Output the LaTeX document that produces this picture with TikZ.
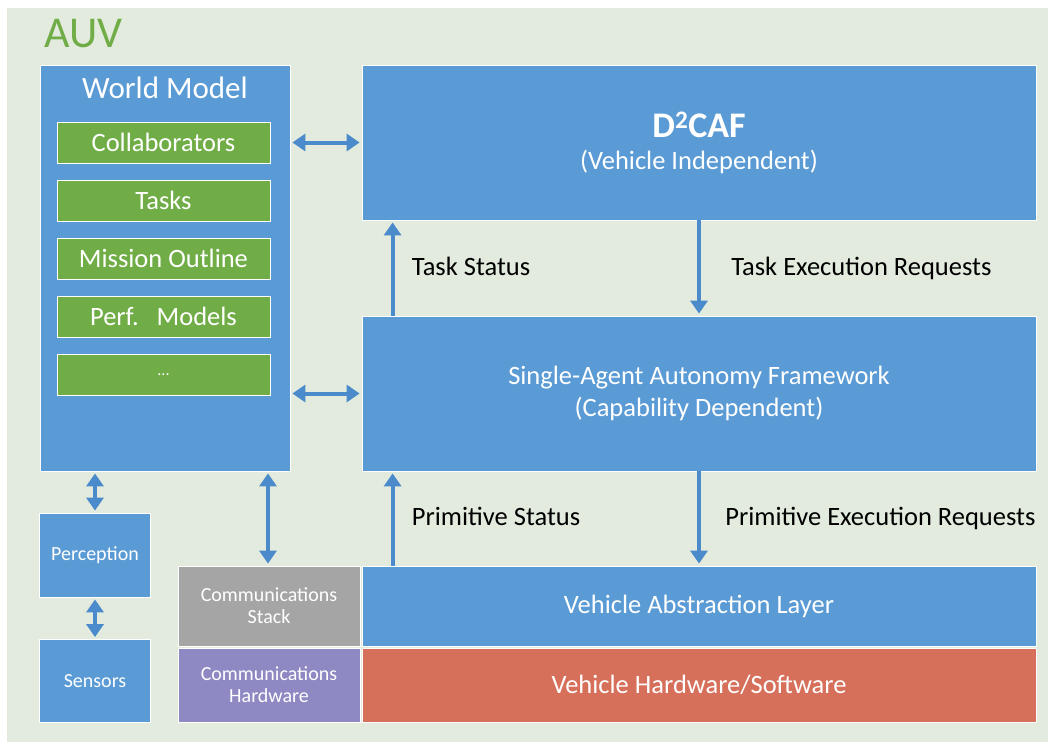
\documentclass[tikz,border=0pt]{standalone}
\usepackage{fontspec}
\setmainfont{Carlito}
\usetikzlibrary{positioning,arrows.meta}
\definecolor{boxblue}{HTML}{5B9BD5}
\definecolor{flowblue}{HTML}{4C8BCB}
\definecolor{itemgreen}{HTML}{70AD47}
\definecolor{stackgray}{HTML}{A5A5A5}
\definecolor{hwpurple}{HTML}{8E88C3}
\definecolor{hwred}{HTML}{D6705A}
\definecolor{auvback}{HTML}{E2EBDD}

\begin{document}
\begin{tikzpicture}[x=1pt, y=-1pt, node distance=58pt, on grid,
    box/.style={fill=boxblue, draw=white, line width=0.8pt, text=white, align=center, inner sep=0pt},
    item/.style={box, fill=itemgreen, minimum width=213pt, minimum height=41pt, font=\fontsize{26.5}{29}\selectfont},
    layer/.style={box, minimum width=674pt, font=\fontsize{26.5}{32}\selectfont},
    small/.style={box, font=\fontsize{20}{22}\selectfont},
    flow/.style={draw=flowblue, line width=4pt, -{Triangle[width=17pt,length=13pt]}, shorten >=2pt},
    both/.style={flow, {Triangle[width=17pt,length=13pt]}-{Triangle[width=17pt,length=13pt]}, shorten <=2pt},
    note/.style={text=black, font=\fontsize{26.5}{29}\selectfont}]
% page and vehicle area
\fill[white] (0,0) rectangle (1056,744);
\fill[auvback] (7,8) rectangle (1048,742);
\node[text=itemgreen, font=\fontsize{44}{47}\selectfont, anchor=west, inner sep=0pt] (auv) at (44,34) {AUV};

% world model and its contents
\node[box, minimum width=250pt, minimum height=406pt] (wm) at (165,268) {};
\node[text=white, font=\fontsize{31}{34}\selectfont] (wmtitle) at (165,88) {World Model};
\node[item] (collab) at (163.5,142.5) {Collaborators};
\node[item, below=of collab] (tasks) {Tasks};
\node[item, below=of tasks] (mission) {Mission Outline};
\node[item, below=of mission] (perf) {Perf.\ \ \ Models};
\node[item, below=of perf, font=\fontsize{16}{18}\selectfont] (more) {...};

% autonomy stack
\node[layer, minimum height=155pt] (d2caf) at (699,142.5)
    {{\fontsize{36}{36}\selectfont\bfseries D\textsuperscript{2}CAF}\\(Vehicle Independent)};
\node[layer, minimum height=155pt] (saaf) at (699,393.5)
    {Single-Agent Autonomy Framework\\(Capability Dependent)};
\node[layer, minimum height=80pt] (val) at (699,606) {Vehicle Abstraction Layer};
\node[layer, minimum height=74pt, fill=hwred] (vhw) at (699,685) {Vehicle Hardware/Software};

% communications and sensing
\node[small, minimum width=182pt, minimum height=80pt, fill=stackgray] (cstack) at (269,606) {Communications\\Stack};
\node[small, minimum width=182pt, minimum height=74pt, fill=hwpurple] (chw) at (269,685) {Communications\\Hardware};
\node[small, minimum width=111pt, minimum height=84pt] (perc) at (95,555) {Perception};
\node[small, minimum width=111pt, minimum height=83pt] (sens) at (95,681) {Sensors};

% data flow
\draw[both] (wm.east |- d2caf) -- (d2caf.west);
\draw[both] (wm.east |- saaf) -- (saaf.west);
\draw[flow] ([xshift=31pt]saaf.north west) -- node[note, right=14pt, yshift=2pt] {Task Status} ([xshift=31pt]d2caf.south west);
\draw[flow] (d2caf.south) -- node[note, right=27pt] {Task Execution Requests} (saaf.north);
\draw[flow] ([xshift=31pt]val.north west) -- node[note, right=14pt, yshift=2pt] {Primitive Status} ([xshift=31pt]saaf.south west);
\draw[flow] (saaf.south) -- node[note, right=21pt] {Primitive Execution Requests} (val.north);
\draw[both] (perc.north) -- (perc.north |- wm.south);
\draw[both] (sens.north) -- (perc.south);
\draw[both] ([xshift=-1pt]cstack.north) -- ([xshift=-1pt]cstack.north |- wm.south);
\end{tikzpicture}
\end{document}
